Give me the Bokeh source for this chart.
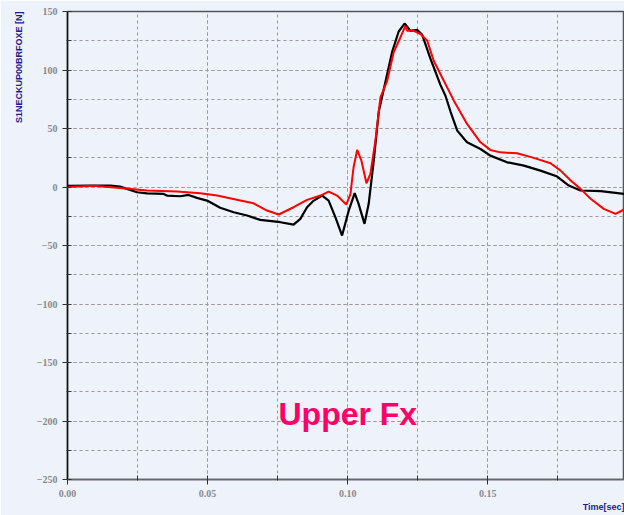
from bokeh.plotting import figure
from bokeh.models import Range1d, Label, Title, SingleIntervalTicker, NumeralTickFormatter
from bokeh.embed import file_html
from bokeh.resources import INLINE

# Upper neck force Fx for two test runs (time in s, force in N)
time_black = [0.0, 0.0081, 0.0153, 0.0188, 0.0248, 0.0284, 0.0343, 0.0355, 0.0403, 0.0432,
              0.0462, 0.0498, 0.0545, 0.0593, 0.0641, 0.0688, 0.0760, 0.0807, 0.0831, 0.0855,
              0.0879, 0.0909, 0.0932, 0.0956, 0.0980, 0.1004, 0.1025, 0.1039, 0.1060, 0.1075,
              0.1093, 0.1111, 0.1135, 0.1159, 0.1182, 0.1203, 0.1212, 0.1224, 0.1248, 0.1266,
              0.1295, 0.1331, 0.1349, 0.1367, 0.1391, 0.1426, 0.1474, 0.1509, 0.1569, 0.1629,
              0.1688, 0.1748, 0.1789, 0.1831, 0.1903, 0.1990]
force_black = [1.0, 1.3, 1.3, 0.3, -4.5, -5.4, -5.9, -7.3, -7.9, -6.8,
               -9.3, -11.6, -17.8, -21.6, -24.4, -28.1, -30.1, -32.1, -27.2, -17.3,
               -11.6, -7.3, -11.6, -25.8, -41.5, -20.0, -5.3, -14.4, -31.5, -14.4,
               22.5, 64.5, 90.2, 115.8, 132.9, 139.7, 137.2, 133.5, 134.3, 130.0,
               110.0, 87.3, 78.0, 64.5, 48.2, 38.2, 32.5, 26.8, 21.1, 18.3,
               14.0, 8.9, 1.2, -3.0, -3.6, -5.9]

time_red = [0.0, 0.0093, 0.0188, 0.0284, 0.0391, 0.0474, 0.0534, 0.0617, 0.0664, 0.0712,
            0.0754, 0.0807, 0.0855, 0.0903, 0.0932, 0.0962, 0.0995, 0.1010, 0.1021, 0.1034,
            0.1049, 0.1067, 0.1081, 0.1099, 0.1117, 0.1141, 0.1164, 0.1188, 0.1206, 0.1212,
            0.1236, 0.1260, 0.1284, 0.1307, 0.1343, 0.1379, 0.1426, 0.1474, 0.1509, 0.1545,
            0.1605, 0.1664, 0.1724, 0.1760, 0.1796, 0.1831, 0.1867, 0.1914, 0.1956, 0.1980,
            0.1990]
force_red = [0.0, 1.0, -0.8, -3.0, -3.9, -5.3, -7.3, -11.5, -13.9, -20.1,
             -23.5, -17.3, -11.0, -7.3, -3.9, -7.3, -15.0, -5.9, 16.9, 31.7,
             22.5, 3.2, 11.2, 39.6, 76.6, 90.8, 115.0, 127.8, 137.8, 133.5,
             133.5, 130.7, 125.0, 107.9, 90.8, 73.8, 53.9, 38.2, 31.7, 29.6,
             28.8, 24.9, 20.3, 14.0, 5.5, -1.6, -10.1, -18.7, -23.0, -20.1,
             -18.0]

chart_title = "Upper Fx"
y_title = "S1NECKUP00BRFOXE [N]"
x_title = "Time[sec]"

BG = "#eef2fb"
TICK_FONT = "Liberation Serif"
TITLE_BLUE = "#1c1c8f"

p = figure(width=624, height=515, output_backend="svg", toolbar_location=None,
           x_range=Range1d(0.0, 0.1988), y_range=Range1d(-250, 150),
           min_border_left=67, min_border_right=0, min_border_top=11, min_border_bottom=36)

p.background_fill_color = BG
p.border_fill_color = BG
p.outline_line_color = "#555555"
p.outline_line_width = 1.5

p.xaxis.ticker = SingleIntervalTicker(interval=0.05, num_minor_ticks=2)
p.yaxis.ticker = SingleIntervalTicker(interval=50, num_minor_ticks=2)
p.xaxis.formatter = NumeralTickFormatter(format="0.00")

for ax in (p.xaxis[0], p.yaxis[0]):
    ax.major_label_text_font = TICK_FONT
    ax.major_label_text_font_style = "bold"
    ax.major_label_text_font_size = "10px"
    ax.major_label_text_color = "#8a8a8a"
    ax.major_tick_line_color = "#333333"
    ax.minor_tick_line_color = "#333333"
    ax.major_tick_out = 5
    ax.major_tick_in = 2
    ax.minor_tick_out = 1
    ax.minor_tick_in = 4
    ax.major_label_standoff = 5

p.yaxis.axis_line_color = "#111111"
p.yaxis.axis_line_width = 1.5
p.xaxis.axis_line_color = "#666666"
p.xaxis.axis_line_width = 1.5

for g in (p.xgrid[0], p.ygrid[0]):
    g.grid_line_color = "#9a9a9a"
    g.grid_line_dash = "3 3"
    g.grid_line_width = 1
    g.minor_grid_line_color = "#9a9a9a"
    g.minor_grid_line_dash = "3 3"
    g.minor_grid_line_width = 1

p.line(time_black, force_black, line_color="#000000", line_width=2.2)
p.line(time_red, force_red, line_color="#ff0000", line_width=2)

p.add_layout(Label(x=0.0753, y=-193.7, text=chart_title, text_font="Liberation Sans",
                   text_font_style="bold", text_font_size="32px", text_color="#ff0066",
                   text_baseline="alphabetic", text_align="left"))

# channel name, rotated, at the top end of the y axis
p.add_layout(Title(text=y_title, align="right", text_font="Liberation Sans",
                   text_font_style="bold", text_font_size="9px", text_color=TITLE_BLUE,
                   standoff=19, offset=0), "left")

# time axis title at the right end under the x axis
p.add_layout(Title(text=x_title, align="right", text_font="Liberation Sans",
                   text_font_style="bold", text_font_size="9px", text_color=TITLE_BLUE,
                   standoff=0, offset=0), "below")

open("out.html", "w").write(file_html(p, INLINE))
